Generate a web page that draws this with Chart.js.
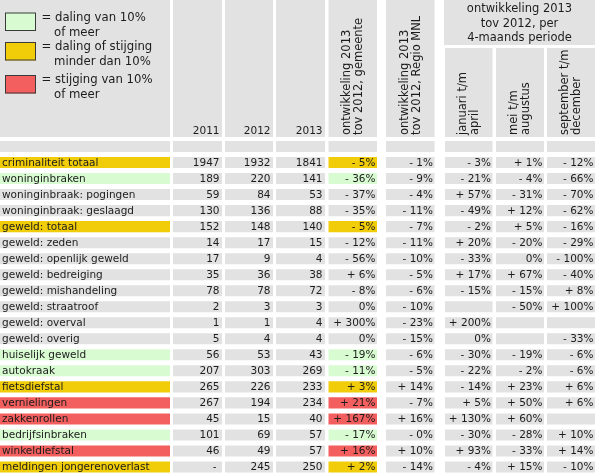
<!DOCTYPE html>
<html>
<head>
<meta charset="utf-8">
<script src="https://cdn.jsdelivr.net/npm/chart.js@4.4.1/dist/chart.umd.min.js"></script>
<style>
  body { margin: 0; background: #fff; }
  #wrap { width: 600px; height: 475px; }
</style>
</head>
<body>
<div id="wrap"><canvas id="tableChart"></canvas></div>
<script>
// data
const categories = [
  'criminaliteit totaal', 'woninginbraken', 'woninginbraak: pogingen', 'woninginbraak: geslaagd',
  'geweld: totaal', 'geweld: zeden', 'geweld: openlijk geweld', 'geweld: bedreiging',
  'geweld: mishandeling', 'geweld: straatroof', 'geweld: overval', 'geweld: overig',
  'huiselijk geweld', 'autokraak', 'fietsdiefstal', 'vernielingen', 'zakkenrollen',
  'bedrijfsinbraken', 'winkeldiefstal', 'meldingen jongerenoverlast'
];
const highlighted = [1, 1, 0, 0, 1, 0, 0, 0, 0, 0, 0, 0, 1, 1, 1, 1, 1, 1, 1, 1];
const years = ['2011', '2012', '2013'];
const count2011 = [1947, 189, 59, 130, 152, 14, 17, 35, 78, 2, 1, 5, 56, 207, 265, 267, 45, 101, 46, null];
const count2012 = [1932, 220, 84, 136, 148, 17, 9, 36, 78, 3, 1, 4, 53, 303, 226, 194, 15, 69, 49, 245];
const count2013 = [1841, 141, 53, 88, 140, 15, 4, 38, 72, 3, 4, 4, 43, 269, 233, 234, 40, 57, 57, 250];
const changeGemeente = [-5, -36, -37, -35, -5, -12, -56, 6, -8, 0, 300, 0, -19, -11, 3, 21, 167, -17, 16, 2];
const changeRegio = [-1, -9, -4, -11, -7, -11, -10, -5, -6, -10, -23, -15, -6, -5, 14, -7, 16, -0, 10, -14];
const changeJanApr = [-3, -21, 57, -49, -2, 20, -33, 17, -15, null, 200, 0, -30, -22, -14, 5, 130, -30, 93, -4];
const changeMeiAug = [1, -4, -31, 12, 5, -20, 0, 67, -15, -50, null, null, -19, -2, 23, 50, 60, -28, -33, 15];
const changeSepDec = [-12, -66, -70, -62, -16, -29, -100, -40, 8, 100, null, -33, -6, -6, 6, 6, null, 10, 14, -10];

const legendItems = [
  ['= daling van 10%', 'of meer'],
  ['= daling of stijging', 'minder dan 10%'],
  ['= stijging van 10%', 'of meer']
];

// layout / style
const FONT = '"DejaVu Sans", sans-serif';
const GRAY = '#e2e2e2';
const GREEN = '#d8fbd2';
const YELLOW = '#f1cc08';
const RED = '#f35f5f';
const TEXT = '#1c1c1c';
const HEADER_BOTTOM = 137;

const columns = [
  { key: 'label', x0: 0, x1: 170 },
  { key: '2011', x0: 173, x1: 222, values: count2011, title: years[0] },
  { key: '2012', x0: 225, x1: 273, values: count2012, title: years[1] },
  { key: '2013', x0: 276, x1: 325, values: count2013, title: years[2] },
  { key: 'gem', x0: 328.5, x1: 377, values: changeGemeente, pct: true, rot: ['ontwikkeling 2013', 'tov 2012, gemeente'] },
  { key: 'regio', x0: 386, x1: 434.5, values: changeRegio, pct: true, rot: ['ontwikkeling 2013', 'tov 2012, Regio MNL'] },
  { key: 'jan', x0: 445, x1: 492.5, values: changeJanApr, pct: true, rot: ['januari t/m', 'april'], sub: true },
  { key: 'mei', x0: 496, x1: 544, values: changeMeiAug, pct: true, rot: ['mei t/m', 'augustus'], sub: true },
  { key: 'sep', x0: 547, x1: 595, values: changeSepDec, pct: true, rot: ['september t/m', 'december'], sub: true }
];
const groupTitle = ['ontwikkeling 2013', 'tov 2012, per', '4-maands periode'];

function changeColor(v) {
  if (v <= -10) return GREEN;
  if (v >= 10) return RED;
  return YELLOW;
}

function fmtPct(v) {
  if (v === null) return '';
  if (v === 0) return Object.is(v, -0) ? '- 0%' : '0%';
  return (v < 0 ? '- ' : '+ ') + Math.abs(v) + '%';
}

const rowLabels = [' '].concat(categories);

const datasets = columns.map(col => ({
  label: col.key,
  data: rowLabels.map(() => [col.x0, col.x1]),
  backgroundColor: rowLabels.map((r, i) => {
    if (i === 0) return GRAY;
    const k = i - 1;
    if ((col.key === 'label' || col.key === 'gem') && highlighted[k]) {
      return changeColor(changeGemeente[k]);
    }
    return GRAY;
  }),
  borderWidth: 0,
  grouped: false,
  barPercentage: 0.69,
  categoryPercentage: 1
}));

const headerPlugin = {
  id: 'header',
  beforeDatasetsDraw(chart) {
    const ctx = chart.ctx;
    const xs = chart.scales.x;
    ctx.save();
    columns.forEach(col => {
      const a = xs.getPixelForValue(col.x0), b = xs.getPixelForValue(col.x1);
      ctx.fillStyle = GRAY;
      if (col.sub) {
        ctx.fillRect(a, 48, b - a, HEADER_BOTTOM - 48);
      } else {
        ctx.fillRect(a, 0, b - a, HEADER_BOTTOM);
      }
      ctx.fillStyle = TEXT;
      if (col.title) {
        ctx.font = '10.5px ' + FONT;
        ctx.textAlign = 'right';
        ctx.textBaseline = 'middle';
        ctx.fillText(col.title, b - 2.5, 131.5);
      }
      if (col.rot) {
        ctx.font = '11.5px ' + FONT;
        ctx.textAlign = 'left';
        ctx.textBaseline = 'middle';
        const cx = (a + b) / 2 + 0.5;
        col.rot.forEach((line, li) => {
          ctx.save();
          ctx.translate(cx - 6 + li * 12, 135);
          ctx.rotate(-Math.PI / 2);
          ctx.fillText(line, 0, 0);
          ctx.restore();
        });
      }
    });
    // group header over the 4-month columns
    const g0 = xs.getPixelForValue(columns[6].x0) - 1;
    const g1 = xs.getPixelForValue(columns[8].x1);
    ctx.fillStyle = GRAY;
    ctx.fillRect(g0, 0, g1 - g0, 45);
    ctx.fillStyle = TEXT;
    ctx.font = '11.5px ' + FONT;
    ctx.textAlign = 'center';
    ctx.textBaseline = 'middle';
    groupTitle.forEach((line, li) => ctx.fillText(line, (g0 + g1) / 2, 9.5 + li * 14.5));

    // legend
    const boxes = [12.5, 42, 75];
    const colors = [GREEN, YELLOW, RED];
    ctx.font = '11.7px ' + FONT;
    ctx.textAlign = 'left';
    legendItems.forEach((item, i) => {
      ctx.fillStyle = colors[i];
      ctx.fillRect(5, boxes[i], 31, 18.5);
      ctx.strokeStyle = '#3a3a3a';
      ctx.lineWidth = 1;
      ctx.strokeRect(5.5, boxes[i] + 0.5, 30, 17.5);
      ctx.fillStyle = TEXT;
      ctx.fillText(item[0], 41.5, boxes[i] + 5);
      ctx.fillText(item[1], 54, boxes[i] + 20);
    });
    ctx.restore();
  },
  afterDatasetsDraw(chart) {
    const ctx = chart.ctx;
    const xs = chart.scales.x, ys = chart.scales.y;
    ctx.save();
    ctx.font = '10.5px ' + FONT;
    ctx.fillStyle = TEXT;
    ctx.textBaseline = 'middle';
    categories.forEach((name, k) => {
      const py = ys.getPixelForValue(k + 1) + 0.5;
      columns.forEach(col => {
        if (col.key === 'label') {
          ctx.textAlign = 'left';
          ctx.fillText(name, xs.getPixelForValue(col.x0) + 2, py);
          return;
        }
        const v = col.values[k];
        const txt = col.pct ? fmtPct(v) : (v === null ? '-' : String(v));
        ctx.textAlign = 'right';
        const rx = xs.getPixelForValue(col.x1) - (col.pct ? 1.5 : 2.5);
        ctx.fillText(txt, v === null && !col.pct ? rx - 3 : rx, py);
      });
    });
    ctx.restore();
  }
};

new Chart(document.getElementById('tableChart'), {
  type: 'bar',
  data: { labels: rowLabels, datasets: datasets },
  options: {
    indexAxis: 'y',
    responsive: true,
    maintainAspectRatio: false,
    animation: false,
    layout: { padding: { top: 138.5, left: 0, right: 0, bottom: 0 } },
    plugins: {
      legend: { display: false },
      tooltip: { enabled: false }
    },
    scales: {
      x: { type: 'linear', min: 0, max: 600, display: false },
      y: { type: 'category', display: false }
    }
  },
  plugins: [headerPlugin]
});
</script>
</body>
</html>
